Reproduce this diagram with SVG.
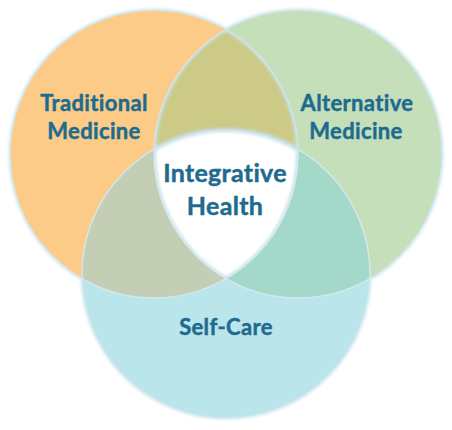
<svg xmlns="http://www.w3.org/2000/svg" width="452" height="430" viewBox="0 0 452 430">
  <defs>
    <clipPath id="clipL"><circle cx="154" cy="154" r="144"/></clipPath>
    <clipPath id="clipR"><circle cx="298" cy="154" r="144"/></clipPath>
    <filter id="halo" x="-10%" y="-10%" width="120%" height="120%">
      <feGaussianBlur stdDeviation="1.6"/>
    </filter>
    <style>
      .lbl { font-family: Lato, "Open Sans", "Liberation Sans", sans-serif; font-weight: 700; fill: #1E6B8F; stroke: #1E6B8F; stroke-width: 0.45; text-anchor: middle; letter-spacing: 0.35px; }
      .big { font-size: 25px; letter-spacing: 0.3px; }
      .sm { font-size: 22px; }
      .edge { fill: none; stroke: #D3E8EF; stroke-width: 1.4; }
    </style>
  </defs>
  <rect width="452" height="430" fill="#FFFFFF"/>
  <g id="halos" filter="url(#halo)" fill="none" stroke="#CFE4EE" stroke-width="3">
    <circle cx="154" cy="154" r="144"/>
    <circle cx="298" cy="154" r="144"/>
    <circle cx="226" cy="274" r="144"/>
  </g>
  <g id="traditional-medicine">
    <circle cx="154" cy="154" r="144" fill="#FCCB88"/>
  </g>
  <g id="alternative-medicine">
    <circle cx="298" cy="154" r="144" fill="#C5DFBA"/>
  </g>
  <g id="self-care">
    <circle cx="226" cy="274" r="144" fill="#BAE5EB"/>
  </g>
  <g id="overlaps">
    <circle cx="298" cy="154" r="144" fill="#CCCA86" clip-path="url(#clipL)"/>
    <circle cx="226" cy="274" r="144" fill="#C4CEB4" clip-path="url(#clipL)"/>
    <circle cx="226" cy="274" r="144" fill="#A4D9CA" clip-path="url(#clipR)"/>
  </g>
  <g id="edges">
    <circle class="edge" cx="154" cy="154" r="144"/>
    <circle class="edge" cx="298" cy="154" r="144"/>
    <circle class="edge" cx="226" cy="274" r="144"/>
  </g>
  <g id="integrative-health">
    <g clip-path="url(#clipR)">
      <g clip-path="url(#clipL)">
        <circle cx="226" cy="274" r="144" fill="#FFFFFF"/>
        <g filter="url(#halo)" fill="none" stroke="#C8E0EA" stroke-width="4">
          <circle cx="154" cy="154" r="144"/>
          <circle cx="298" cy="154" r="144"/>
          <circle cx="226" cy="274" r="144"/>
        </g>
      </g>
    </g>
    <text class="lbl big" x="225" y="182">Integrative</text>
    <text class="lbl big" x="225" y="215">Health</text>
  </g>
  <g id="labels">
    <text class="lbl sm" x="94" y="111">Traditional</text>
    <text class="lbl sm" x="94" y="139">Medicine</text>
    <text class="lbl sm" x="357" y="111">Alternative</text>
    <text class="lbl sm" x="356" y="139">Medicine</text>
    <text class="lbl sm" x="226" y="335">Self-Care</text>
  </g>
  <g id="connectors"/>
</svg>
